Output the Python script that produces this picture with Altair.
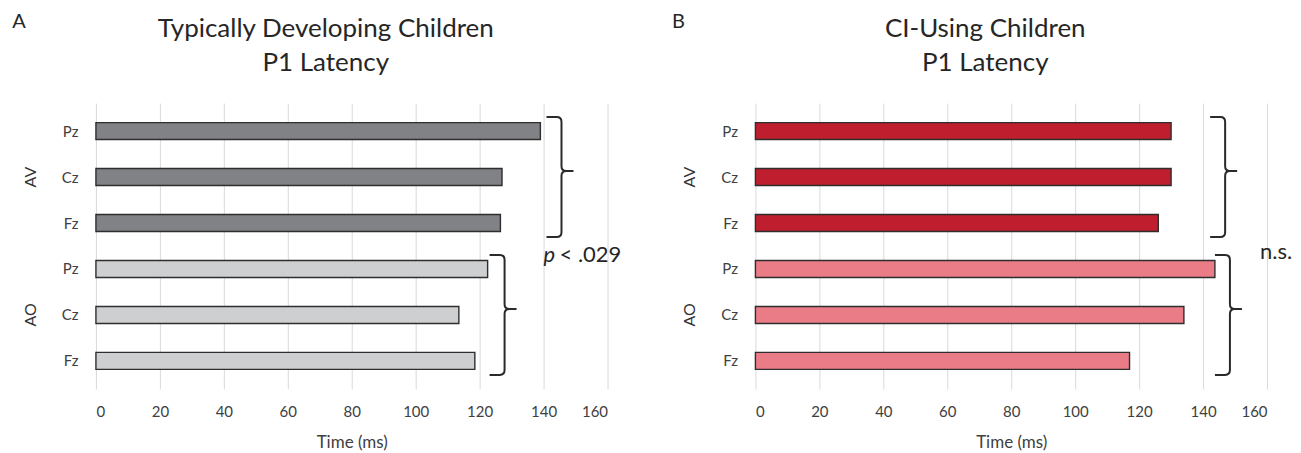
import altair as alt
import pandas as pd

# ---- data ----
electrodes = ["Pz", "Cz", "Fz", "Pz", "Cz", "Fz"]
conditions = ["AV", "AV", "AV", "AO", "AO", "AO"]
td_latency = [139.0, 127.0, 126.5, 122.5, 113.5, 118.5]
ci_latency = [130.0, 130.0, 126.0, 143.7, 134.0, 117.0]

group_names = ["AV", "AO"]
group_center = [1, 4]
td_bracket_x = [145.6, 127.8]
ci_bracket_x = [146.9, 148.4]

panel_letters = ["A", "B"]
td_title = ["Typically Developing Children", "P1 Latency"]
ci_title = ["CI-Using Children", "P1 Latency"]
x_ticks = [0, 20, 40, 60, 80, 100, 120, 140, 160]

td_colors = ["#808285", "#CDCFD1"]
ci_colors = ["#BE1E2D", "#EA7C87"]

FONT = "Lato"
TXT = "#333333"

BRACE = ("M -0.25 -1 L -0.08 -1 Q 0 -1 0 -0.92 L 0 -0.18 Q 0 -0.1 0.08 -0.1 L 0.2 -0.1 "
         "M 0.08 -0.1 Q 0 -0.1 0 -0.02 L 0 0.92 Q 0 1 -0.08 1 L -0.25 1")

label_expr = "[" + ",".join("'%s'" % e for e in electrodes) + "][datum.value]"

xscale = alt.Scale(domain=[0, 160], nice=False)
yscale = alt.Scale(domain=[-0.5, 5.5], reverse=True, nice=False, zero=False)
xaxis = alt.Axis(values=x_ticks, title="Time (ms)", grid=True, gridColor="#d9d9d9",
                 gridWidth=1, domain=False, ticks=False, labelPadding=16, titlePadding=15,
                 labelFontSize=15, titleFontSize=17)
yaxis = alt.Axis(values=list(range(6)), labelExpr=label_expr, grid=False, domain=False,
                 ticks=False, title=None, labelPadding=18, labelFontSize=15)


def X():
    return alt.X("latency:Q", scale=xscale, axis=xaxis)


def Y():
    return alt.Y("pos:Q", scale=yscale, axis=yaxis)


def panel(values, colors, bracket_x, letter, title, notes):
    df = pd.DataFrame({"pos": list(range(6)), "electrode": electrodes,
                       "condition": conditions, "latency": values})
    bars = alt.Chart(df).mark_bar(orient="horizontal", size=17, stroke="#2e2e2e",
                                  strokeWidth=1.4).encode(
        x=X(), y=Y(),
        color=alt.Color("condition:N", scale=alt.Scale(domain=group_names, range=colors),
                        legend=None),
    )
    gdf = pd.DataFrame({"group": group_names, "pos": group_center})
    glabels = alt.Chart(gdf).mark_text(angle=270, fontSize=16, font=FONT, color=TXT).encode(
        x=alt.value(-65), y=Y(), text="group:N")
    bdf = pd.DataFrame({"pos": group_center, "latency": bracket_x})
    braces = alt.Chart(bdf).mark_point(shape=BRACE, size=14400, filled=False,
                                       color="#2a2a2a", strokeWidth=2, opacity=1).encode(
        x=X(), y=Y())
    ldf = pd.DataFrame({"letter": [letter]})
    letter_mark = alt.Chart(ldf).mark_text(fontSize=20, font=FONT, color="#262626").encode(
        x=alt.value(-77), y=alt.value(-81), text="letter:N")
    t1 = alt.Chart(pd.DataFrame({"t": [title[0]]})).mark_text(
        fontSize=26, font=FONT, color="#262626").encode(
        x=alt.value(230), y=alt.value(-74), text="t:N")
    t2 = alt.Chart(pd.DataFrame({"t": [title[1]]})).mark_text(
        fontSize=26, font=FONT, color="#262626").encode(
        x=alt.value(230), y=alt.value(-40), text="t:N")
    layers = [bars, glabels, braces, letter_mark, t1, t2]
    for n in notes:
        ndf = pd.DataFrame({"latency": [n["x"]], "pos": [n["pos"]], "txt": [n["text"]]})
        layers.append(alt.Chart(ndf).mark_text(
            fontSize=22, font=FONT, color="#262626", align="left", dx=n.get("dx", 0),
            fontStyle=n.get("style", "normal")).encode(
            x=X(), y=Y(), text="txt:N"))
    return alt.layer(*layers).properties(width=512, height=286)


td_notes = [{"x": 140.0, "pos": 2.69, "text": "p", "style": "italic"},
            {"x": 140.0, "pos": 2.69, "text": "< .029", "dx": 16}]
ci_notes = [{"x": 157.8, "pos": 2.63, "text": "n.s."}]

left = panel(td_latency, td_colors, td_bracket_x, panel_letters[0], td_title, td_notes)
right = panel(ci_latency, ci_colors, ci_bracket_x, panel_letters[1], ci_title, ci_notes)

chart = alt.hconcat(left, right, spacing=50).resolve_scale(color="independent").properties(
    padding={"left": 4, "top": 4, "right": 0, "bottom": 0}
).configure_view(stroke=None).configure_axis(
    labelFont=FONT, titleFont=FONT, labelColor="#404040", titleColor="#404040",
    titleFontWeight="normal")

chart.save("out.html", embed_options={"renderer": "svg", "actions": False})
